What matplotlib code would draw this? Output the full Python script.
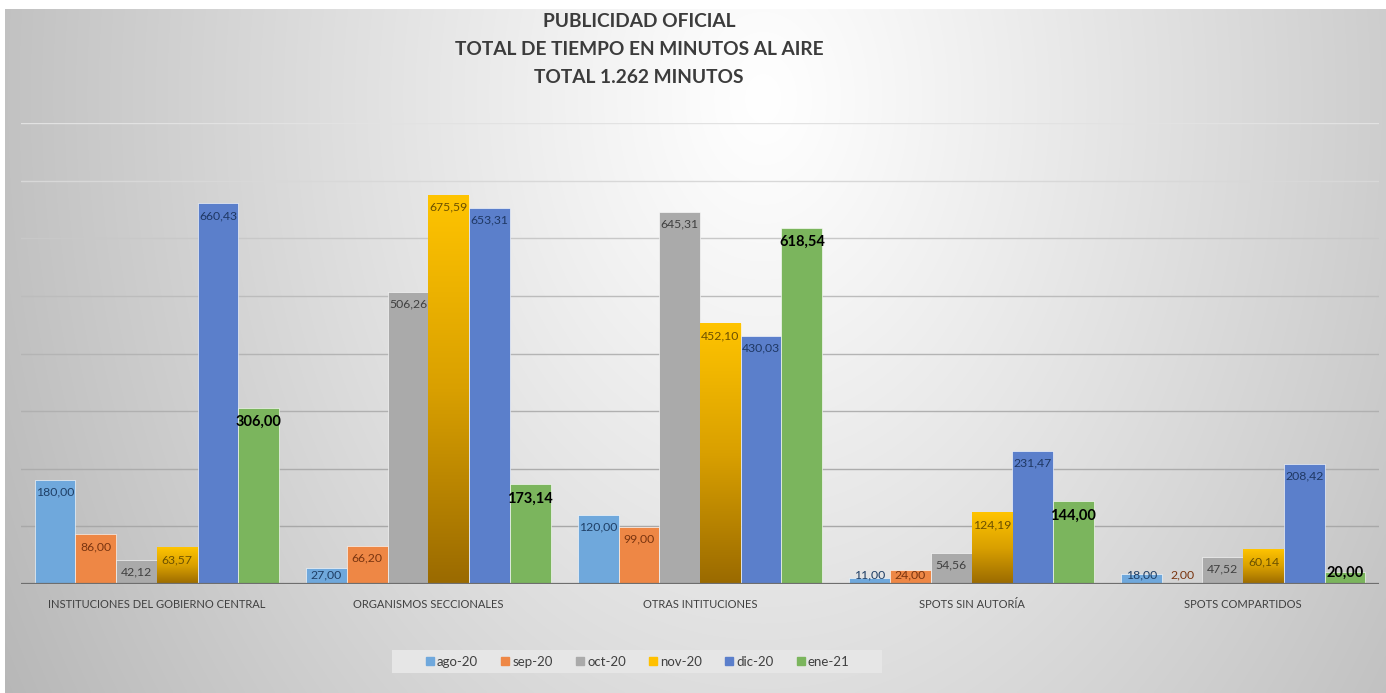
import numpy as np
import matplotlib
matplotlib.use("Agg")
import matplotlib.pyplot as plt
from matplotlib.lines import Line2D
from matplotlib.patches import Rectangle
from matplotlib.colors import LinearSegmentedColormap

plt.rcParams['font.family'] = ['Lato', 'DejaVu Sans']

categories = ['INSTITUCIONES DEL GOBIERNO CENTRAL', 'ORGANISMOS SECCIONALES',
              'OTRAS INTITUCIONES', 'SPOTS SIN AUTORÍA', 'SPOTS COMPARTIDOS']
months = ['ago-20', 'sep-20', 'oct-20', 'nov-20', 'dic-20', 'ene-21']

ago_20 = [180.00, 27.00, 120.00, 11.00, 18.00]
sep_20 = [86.00, 66.20, 99.00, 24.00, 2.00]
oct_20 = [42.12, 506.26, 645.31, 54.56, 47.52]
nov_20 = [63.57, 675.59, 452.10, 124.19, 60.14]
dic_20 = [660.43, 653.31, 430.03, 231.47, 208.42]
ene_21 = [306.00, 173.14, 618.54, 144.00, 20.00]
series = [ago_20, sep_20, oct_20, nov_20, dic_20, ene_21]

bar_colors = ['#6fa8dc', '#ee8745', '#aaaaaa', '#ffc000', '#5b7fcb', '#7bb55d']
label_colors = ['#1f3f66', '#7a3510', '#404040', '#6b5000', '#1f3864', '#000000']

title = 'PUBLICIDAD OFICIAL\nTOTAL DE TIEMPO EN MINUTOS AL AIRE\nTOTAL 1.262 MINUTOS'

W, H = 1386, 693
fig = plt.figure(figsize=(W / 100, H / 100), dpi=100)
fig.patch.set_facecolor('white')

# background panel, soft radial gradient
bg = fig.add_axes([0, 0, 1, 1], zorder=-10)
bg.set_xlim(0, W)
bg.set_ylim(H, 0)
bg.axis('off')
yy, xx = np.mgrid[0:H:2, 0:W:2]
d = np.sqrt(((xx - 760) / 760.0) ** 2 + ((yy - 90) / 1050.0) ** 2)
val = 1.0 - 0.24 * np.clip(d, 0, 1.2) ** 1.1
img = np.dstack([val, val, val])
bg.imshow(img, extent=(5, W, H, 9), aspect='auto', interpolation='bilinear')
# legend band
bg.add_patch(Rectangle((392, 650), 490, 23, facecolor='#e6e6e6', edgecolor='none'))

ax = fig.add_axes([21 / W, 109 / H, 1358 / W, 461 / H])
ax.patch.set_alpha(0)

x = np.arange(len(categories))
width = 0.15
gold = LinearSegmentedColormap.from_list('gold', ['#9a6a00', '#d9a000', '#ffc400'])
grad = np.linspace(0, 1, 256).reshape(-1, 1)
for i, (vals, col) in enumerate(zip(series, bar_colors)):
    pos = x + (i - 2.5) * width
    bars = ax.bar(pos, vals, width, color=col, edgecolor=(1, 1, 1, 0.7),
                  linewidth=0.6, zorder=3, label=months[i])
    if months[i] == 'nov-20':
        for b in bars:
            bx, bw, bh = b.get_x(), b.get_width(), b.get_height()
            im = ax.imshow(grad, extent=(bx, bx + bw, 0, bh), origin='lower',
                           cmap=gold, aspect='auto', zorder=3.5)
            im.set_clip_path(b)
    for p, v in zip(pos, vals):
        txt = f'{v:.2f}'.replace('.', ',')
        if months[i] == 'ene-21':
            ax.text(p, max(v - 25, 20), txt, ha='center', va='center', fontsize=10.5,
                    fontweight='bold', color=label_colors[i], zorder=5)
        else:
            ax.text(p, max(v - 21, 16), txt, ha='center', va='center', fontsize=8.8,
                    color=label_colors[i], zorder=5)

ax.set_xlim(-0.5, len(categories) - 0.5)
ax.set_ylim(0, 800)
ax.set_yticks(np.arange(100, 801, 100))
ax.set_yticklabels([])
ax.yaxis.grid(True, zorder=0)
shades = ['#a8a8a8', '#acacac', '#b0b0b0', '#b4b4b4', '#bcbcbc', '#c8c8c8', '#d8d8d8', '#e2e2e2']
for line, c in zip(ax.get_ygridlines(), shades):
    line.set_color(c)
    line.set_linewidth(1.0)
ax.axhline(0, color='#6e6e6e', linewidth=1.6, zorder=4)
ax.tick_params(axis='y', length=0)
ax.set_xticks(x)
ax.set_xticklabels(categories, fontsize=8, color='#404040')
ax.tick_params(axis='x', length=0, pad=11)
for s in ax.spines.values():
    s.set_visible(False)

fig.text(639 / W, 1 - 13 / H, title, ha='center', va='top', fontsize=13.8,
         fontweight='bold', color='#3c3c3c', linespacing=1.78)

handles = [Line2D([0], [0], marker='s', linestyle='', markersize=6,
                  markerfacecolor=c, markeredgecolor=c) for c in bar_colors]
leg = fig.legend(handles, months, loc='center', bbox_to_anchor=(637 / W, 1 - 661.5 / H),
                 ncol=6, fontsize=9.5, frameon=False, handletextpad=0.15,
                 columnspacing=1.65, borderpad=0.5, handlelength=0.8)
for t in leg.get_texts():
    t.set_color('#404040')

fig.savefig('out.png', dpi=100)
